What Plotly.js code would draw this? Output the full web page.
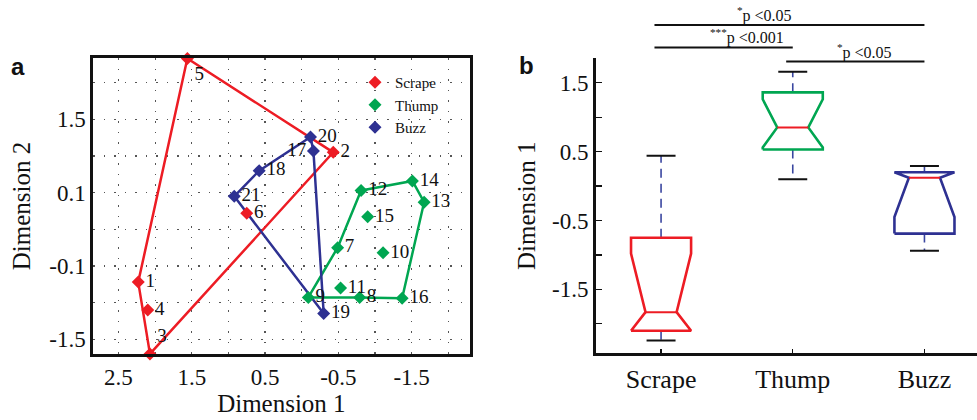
<!DOCTYPE html>
<html><head><meta charset="utf-8">
<script src="https://cdn.plot.ly/plotly-3.0.1.min.js"></script>
<style>html,body{margin:0;padding:0;background:#fff}#chart{width:977px;height:420px}</style>
</head><body><div id="chart"></div>
<script>
// ---------- Panel a: MDS coordinates ----------
const scrapeIds = [1, 2, 3, 4, 5, 6];
const scrapeDim1 = [2.23, -0.43, 2.07, 2.10, 1.56, 0.75];
const scrapeDim2 = [-0.72, 1.05, -1.70, -1.10, 2.33, 0.22];

const thumpIds = [7, 8, 9, 10, 11, 12, 13, 14, 15, 16];
const thumpDim1 = [-0.49, -0.79, -0.09, -1.11, -0.53, -0.81, -1.67, -1.51, -0.90, -1.37];
const thumpDim2 = [-0.25, -0.93, -0.93, -0.32, -0.80, 0.53, 0.37, 0.66, 0.17, -0.94];

const buzzIds = [17, 18, 19, 20, 21];
const buzzDim1 = [-0.16, 0.58, -0.30, -0.12, 0.92];
const buzzDim2 = [1.07, 0.80, -1.15, 1.26, 0.45];

// hull outlines (point ids, in drawing order)
const scrapeHull = [5, 2, 3, 1, 5];
const thumpHull = [12, 14, 13, 16, 8, 9, 7, 12];
const buzzHull = [21, 18, 20, 17, 19, 21];

// tick labels of panel a
const aXTickVals = [2.5, 1.5, 0.5, -0.5, -1.5];
const aXTickText = ['2.5', '1.5', '0.5', '-0.5', '-1.5'];
const aYTickVals = [1.5, 0.5, -0.5, -1.5];
const aYTickText = ['1.5', '0.1', '-0.1', '-1.5'];

// ---------- Panel b: notched box statistics (Dimension 1) ----------
const boxCategories = ['Scrape', 'Thump', 'Buzz'];
const boxWhiskerLow = [-2.24, 0.10, -0.94];
const boxQ1 = [-2.10, 0.53, -0.69];
const boxNotchLow = [-2.10, 0.56, -0.45];
const boxMedian = [-1.83, 0.85, 0.12];
const boxNotchHigh = [-0.98, 1.26, 0.20];
const boxQ3 = [-0.75, 1.36, 0.20];
const boxWhiskerHigh = [0.44, 1.66, 0.29];

const bYTickVals = [1.5, 0.5, -0.5, -1.5];
const bYTickText = ['1.5', '0.5', '-0.5', '-1.5'];

// significance comparisons (category indices)
const compFrom = [0, 0, 1];
const compTo = [2, 1, 2];
const compLabels = ['<sup>*</sup>p <0.05', '<sup>***</sup>p <0.001', '<sup>*</sup>p <0.05'];

// ---------- styles ----------
const RED = '#ed1c24', GREEN = '#00a651', BLUE = '#2e3192';
const SERIF = 'Liberation Serif, Times New Roman, serif';
const SANS = 'Liberation Sans, Arial, sans-serif';
const GRID = {showgrid: true, gridcolor: '#555', griddash: '1.5px,9px', gridwidth: 1.2};

const groups = [
  {name: 'Scrape', ids: scrapeIds, x: scrapeDim1, y: scrapeDim2, hull: scrapeHull, color: RED},
  {name: 'Thump', ids: thumpIds, x: thumpDim1, y: thumpDim2, hull: thumpHull, color: GREEN},
  {name: 'Buzz', ids: buzzIds, x: buzzDim1, y: buzzDim2, hull: buzzHull, color: BLUE}
];
const labelPos = {3: 'top right', 5: 'bottom right', 17: 'middle left'};

const traces = [];
groups.forEach(g => {
  const hx = g.hull.map(id => g.x[g.ids.indexOf(id)]);
  const hy = g.hull.map(id => g.y[g.ids.indexOf(id)]);
  traces.push({
    type: 'scatter', mode: 'lines', x: hx, y: hy, xaxis: 'x', yaxis: 'y',
    line: {color: g.color, width: 2.5}, showlegend: false, hoverinfo: 'skip'
  });
});
groups.forEach(g => {
  traces.push({
    type: 'scatter', mode: 'markers+text', name: g.name,
    x: g.x, y: g.y, xaxis: 'x', yaxis: 'y',
    text: g.ids.map(String),
    textposition: g.ids.map(id => labelPos[id] || 'middle right'),
    textfont: {family: SERIF, size: 19, color: '#111'},
    marker: {symbol: 'diamond', size: 10, color: g.color},
    cliponaxis: false
  });
});

// panel b box drawings
const boxColors = [RED, GREEN, BLUE];
const halfW = 0.228, notchW = 0.118, capW = 0.11;
boxCategories.forEach((c, i) => {
  traces.push({
    type: 'scatter', mode: 'lines', xaxis: 'x2', yaxis: 'y2',
    x: [i, i, null, i, i],
    y: [boxQ3[i], boxWhiskerHigh[i], null, boxQ1[i], boxWhiskerLow[i]],
    line: {color: '#3a46a0', width: 1.6, dash: '9px,6px'}, showlegend: false, hoverinfo: 'skip'
  });
  traces.push({
    type: 'scatter', mode: 'lines', xaxis: 'x2', yaxis: 'y2',
    x: [i - halfW, i - halfW, i - notchW, i - halfW, i - halfW, i + halfW, i + halfW, i + notchW, i + halfW, i + halfW, i - halfW],
    y: [boxQ1[i], boxNotchLow[i], boxMedian[i], boxNotchHigh[i], boxQ3[i], boxQ3[i], boxNotchHigh[i], boxMedian[i], boxNotchLow[i], boxQ1[i], boxQ1[i]],
    line: {color: boxColors[i], width: 2.6}, showlegend: false, hoverinfo: 'skip'
  });
  traces.push({
    type: 'scatter', mode: 'lines', xaxis: 'x2', yaxis: 'y2',
    x: [i - notchW, i + notchW], y: [boxMedian[i], boxMedian[i]],
    line: {color: RED, width: 2}, showlegend: false, hoverinfo: 'skip'
  });
  traces.push({
    type: 'scatter', mode: 'lines', xaxis: 'x2', yaxis: 'y2',
    x: [i - capW, i + capW, null, i - capW, i + capW],
    y: [boxWhiskerHigh[i], boxWhiskerHigh[i], null, boxWhiskerLow[i], boxWhiskerLow[i]],
    line: {color: '#111', width: 2}, showlegend: false, hoverinfo: 'skip'
  });
});

// significance bars
const barLevels = [1 - 25 / 420, 1 - 47.5 / 420, 1 - 61.5 / 420];
const labelLevels = [1 - 15 / 420, 1 - 36 / 420, 1 - 51.5 / 420];
const labelShift = [-25, 23, 9];
const shapes = [];
const annotations = [];
compFrom.forEach((f, k) => {
  shapes.push({type: 'line', xref: 'x2', yref: 'paper', x0: f - 0.05, x1: compTo[k],
    y0: barLevels[k], y1: barLevels[k], line: {color: '#111', width: 2}});
  annotations.push({xref: 'x2', yref: 'paper', x: (f - 0.05 + compTo[k]) / 2, xshift: labelShift[k],
    y: labelLevels[k], text: compLabels[k], showarrow: false, xanchor: 'center', yanchor: 'middle',
    font: {family: SERIF, size: 16, color: '#111'}});
});
annotations.push({xref: 'paper', yref: 'paper', x: 18 / 977, y: 1 - 66 / 420, text: '<b>a</b>',
  showarrow: false, xanchor: 'center', yanchor: 'middle', font: {family: SANS, size: 24, color: '#111'}});
annotations.push({xref: 'paper', yref: 'paper', x: 526 / 977, y: 1 - 65 / 420, text: '<b>b</b>',
  showarrow: false, xanchor: 'center', yanchor: 'middle', font: {family: SANS, size: 24, color: '#111'}});

const layout = {
  width: 977, height: 420,
  margin: {l: 0, r: 0, t: 0, b: 0},
  paper_bgcolor: '#fff', plot_bgcolor: '#fff',
  showlegend: true,
  legend: {x: 355 / 977, y: 1 - 66 / 420, xanchor: 'left', yanchor: 'top',
    bgcolor: 'rgba(0,0,0,0)', font: {family: SERIF, size: 15, color: '#111'}, itemwidth: 30},
  xaxis: Object.assign({
    domain: [93.3 / 977, 469.5 / 977], anchor: 'y', range: [2.843, -2.289],
    tickvals: aXTickVals, ticktext: aXTickText, ticks: '',
    minor: Object.assign({tick0: 0, dtick: 0.5}, GRID),
    zeroline: false, showline: true, mirror: true, linecolor: '#111', linewidth: 3,
    tickfont: {family: SERIF, size: 23, color: '#111'},
    title: {text: 'Dimension 1', font: {family: SERIF, size: 25, color: '#111'}, standoff: 6}
  }, GRID),
  yaxis: Object.assign({
    domain: [1 - 354 / 420, 1 - 58 / 420], anchor: 'x', range: [-1.701, 2.337],
    tickvals: aYTickVals, ticktext: aYTickText, ticks: '',
    minor: Object.assign({tick0: 0, dtick: 0.5}, GRID),
    zeroline: false, showline: true, mirror: true, linecolor: '#111', linewidth: 3,
    tickfont: {family: SERIF, size: 23, color: '#111'},
    title: {text: 'Dimension 2', font: {family: SERIF, size: 25, color: '#111'}, standoff: 12}
  }, GRID),
  xaxis2: {
    domain: [596 / 977, 1], anchor: 'y2', range: [-0.494, 2.399],
    tickvals: [0, 1, 2], ticktext: boxCategories, ticks: 'inside', ticklen: 4, tickwidth: 1.2, tickcolor: '#111',
    showgrid: false, zeroline: false, showline: true, linecolor: '#111', linewidth: 3,
    tickfont: {family: SERIF, size: 26, color: '#111'}
  },
  yaxis2: {
    domain: [1 - 353.3 / 420, 1 - 58.3 / 420], anchor: 'x2', range: [-2.427, 1.854],
    tickvals: bYTickVals, ticktext: bYTickText, ticks: 'inside', ticklen: 6, tickwidth: 1.2, tickcolor: '#111',
    minor: {tick0: 0, dtick: 0.5, ticks: 'inside', ticklen: 6, tickwidth: 1.2, tickcolor: '#111', showgrid: false},
    showgrid: false, zeroline: false, showline: true, linecolor: '#111', linewidth: 3,
    tickfont: {family: SERIF, size: 23, color: '#111'},
    title: {text: 'Dimension 1', font: {family: SERIF, size: 25, color: '#111'}, standoff: 10}
  },
  shapes: shapes,
  annotations: annotations
};

Plotly.newPlot('chart', traces, layout, {displayModeBar: false, staticPlot: true});
</script>
</body></html>
